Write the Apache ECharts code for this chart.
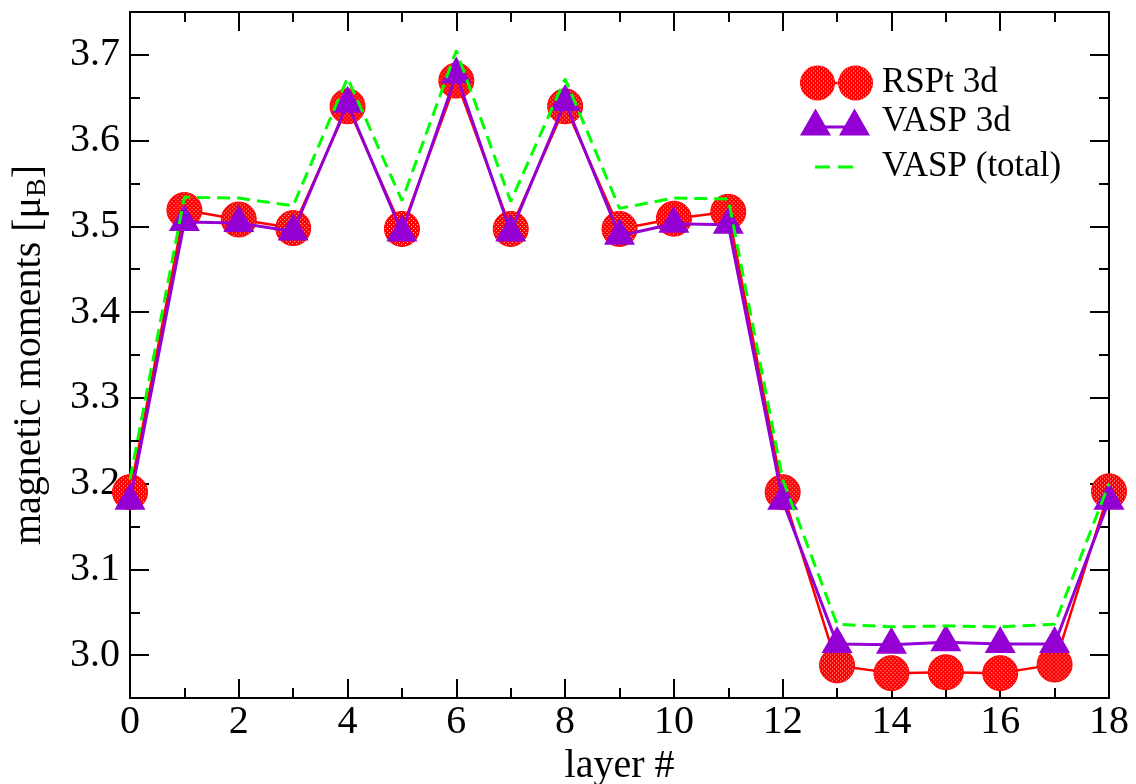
<!DOCTYPE html>
<html>
<head>
<meta charset="utf-8">
<script src="https://cdn.jsdelivr.net/npm/echarts@6/dist/echarts.min.js"></script>
<style>
html,body{margin:0;padding:0;background:#fff;}
#chart{width:1136px;height:784px;}
</style>
</head>
<body>
<div id="chart"></div>
<script>
// ---- data ----
const layers = [0,1,2,3,4,5,6,7,8,9,10,11,12,13,14,15,16,17,18];
const rspt3d = [3.190,3.519,3.508,3.498,3.640,3.497,3.670,3.497,3.640,3.497,3.509,3.517,3.190,2.988,2.979,2.980,2.979,2.989,3.191];
const vasp3d = [3.180,3.505,3.504,3.494,3.643,3.493,3.677,3.493,3.645,3.489,3.503,3.502,3.180,3.013,3.012,3.015,3.013,3.013,3.180];
const vaspTotal = [3.205,3.534,3.533,3.524,3.673,3.530,3.705,3.529,3.672,3.521,3.533,3.532,3.205,3.036,3.033,3.034,3.033,3.036,3.200];
const xTicks = [0,2,4,6,8,10,12,14,16,18];
const yTicks = [3.0,3.1,3.2,3.3,3.4,3.5,3.6,3.7];
const seriesNames = ['RSPt 3d','VASP 3d','VASP (total)'];

// ---- pattern for dotted red circles ----
const pc = document.createElement('canvas');
pc.width = 4; pc.height = 4;
const pctx = pc.getContext('2d');
pctx.fillStyle = '#ff0000'; pctx.fillRect(0,0,4,4);
pctx.fillStyle = '#ffc8c8';
pctx.fillRect(1,1,1,1); pctx.fillRect(3,3,1,1);
const CIRCLE = 35;
// symbols are drawn as unit paths scaled by size/2, so counter-scale the pattern
const symbolPattern = {image: pc, repeat: 'repeat', scaleX: 2/CIRCLE, scaleY: 2/CIRCLE};
const legendPattern = {image: pc, repeat: 'repeat'};

const FONT = 'Liberation Serif';
const ymin = 2.95, ymax = 3.75;

function pts(arr){ return layers.map((l,i)=>[l, arr[i]]); }

const chart = echarts.init(document.getElementById('chart'), null, {renderer:'canvas'});

const axisLineStyle = {show:true, lineStyle:{color:'#000', width:2}};
const legendText = {fontFamily:FONT, fontSize:35, color:'#000', lineHeight:38};

const option = {
  animation:false,
  backgroundColor:'#fff',
  grid:{left:130, right:27, top:12, bottom:86, containLabel:false, outerBoundsMode:'none'},
  legend:[
    {data:[{name:seriesNames[0], itemStyle:{color:legendPattern, borderWidth:0},
            icon:'path://M0,17.5 A17.5,17.5 0 1,1 35,17.5 A17.5,17.5 0 1,1 0,17.5 Z M34,16.2 L39,16.2 L39,18.8 L34,18.8 Z M38,17.5 A17.5,17.5 0 1,1 73,17.5 A17.5,17.5 0 1,1 38,17.5 Z'}],
     left:800, top:64, padding:0, itemWidth:73, itemHeight:35,
     textStyle:Object.assign({padding:[0,0,0,4]}, legendText)},
    {data:[{name:seriesNames[1], icon:'path://M0,27 L15.5,0 L31,27 Z M20,17 L50,17 L50,20 L20,20 Z M39,27 L54.5,0 L70,27 Z'}],
     left:800, top:103, padding:0, itemWidth:70, itemHeight:27,
     textStyle:Object.assign({padding:[0,0,0,7]}, legendText)},
    {data:[{name:seriesNames[2], icon:'path://M0,0 L15,0 L15,3 L0,3 Z M23,0 L38,0 L38,3 L23,3 Z'}],
     left:815, top:148, padding:0, itemWidth:38, itemHeight:3,
     textStyle:Object.assign({padding:[0,0,0,24]}, legendText)}
  ],
  xAxis:[
    {type:'value', position:'bottom', min:0, max:18, interval:2,
     axisLine:axisLineStyle,
     axisTick:{show:true, inside:true, length:19, lineStyle:{color:'#000', width:2}},
     minorTick:{show:true, splitNumber:2, length:10, lineStyle:{color:'#000', width:2}},
     axisLabel:{show:true, fontFamily:FONT, fontSize:40, color:'#000', margin:4,
                customValues:xTicks},
     splitLine:{show:false}, minorSplitLine:{show:false},
     name:'layer #', nameLocation:'middle', nameGap:38,
     nameTextStyle:{fontFamily:FONT, fontSize:40, color:'#000'}},
    {type:'value', position:'top', min:0, max:18, interval:2,
     axisLine:axisLineStyle,
     axisTick:{show:true, inside:true, length:19, lineStyle:{color:'#000', width:2}},
     minorTick:{show:true, splitNumber:2, length:10, lineStyle:{color:'#000', width:2}},
     axisLabel:{show:false}, splitLine:{show:false}, minorSplitLine:{show:false}}
  ],
  yAxis:[
    {type:'value', position:'left', min:ymin, max:ymax,
     axisLine:axisLineStyle,
     axisTick:{show:true, inside:true, length:19, customValues:yTicks, lineStyle:{color:'#000', width:2}},
     axisLabel:{show:true, customValues:yTicks, fontFamily:FONT, fontSize:40, color:'#000', margin:10,
                formatter:v=>Number(v).toFixed(1)},
     splitLine:{show:false},
     name:'{a|magnetic moments [μ}{b|B}{a|]}', nameLocation:'middle', nameGap:78, nameRotate:90,
     nameTextStyle:{fontFamily:FONT, fontSize:40, color:'#000',
        rich:{a:{fontFamily:FONT, fontSize:40, color:'#000'},
              b:{fontFamily:FONT, fontSize:28, color:'#000', padding:[18,0,0,0]}}}},
    {type:'value', position:'left', min:ymin, max:ymax, interval:0.05,
     axisLine:{show:false},
     axisTick:{show:true, inside:true, length:10, lineStyle:{color:'#000', width:2}},
     axisLabel:{show:false}, splitLine:{show:false}},
    {type:'value', position:'right', min:ymin, max:ymax,
     axisLine:axisLineStyle,
     axisTick:{show:true, inside:true, length:19, customValues:yTicks, lineStyle:{color:'#000', width:2}},
     axisLabel:{show:false}, splitLine:{show:false}},
    {type:'value', position:'right', min:ymin, max:ymax, interval:0.05,
     axisLine:{show:false},
     axisTick:{show:true, inside:true, length:10, lineStyle:{color:'#000', width:2}},
     axisLabel:{show:false}, splitLine:{show:false}}
  ],
  series:[
    {name:seriesNames[0], type:'line', xAxisIndex:0, yAxisIndex:0, z:2,
     data:pts(rspt3d), symbol:'circle', symbolSize:CIRCLE, showAllSymbol:true,
     itemStyle:{color:symbolPattern, borderColor:'#ff0000', borderWidth:1},
     lineStyle:{color:'#ff0000', width:2.5}},
    {name:seriesNames[1], type:'line', xAxisIndex:0, yAxisIndex:0, z:3,
     data:pts(vasp3d), symbol:'triangle', symbolSize:[31,27], symbolOffset:[0,-4.5], showAllSymbol:true,
     itemStyle:{color:'#9400d3'},
     lineStyle:{color:'#9400d3', width:3}},
    {name:seriesNames[2], type:'line', xAxisIndex:0, yAxisIndex:0, z:4,
     data:pts(vaspTotal), symbol:'none', showSymbol:false,
     itemStyle:{color:'#00ff00'},
     lineStyle:{color:'#00ff00', width:3, type:[13,7]}}
  ]
};
chart.setOption(option);
</script>
</body>
</html>
